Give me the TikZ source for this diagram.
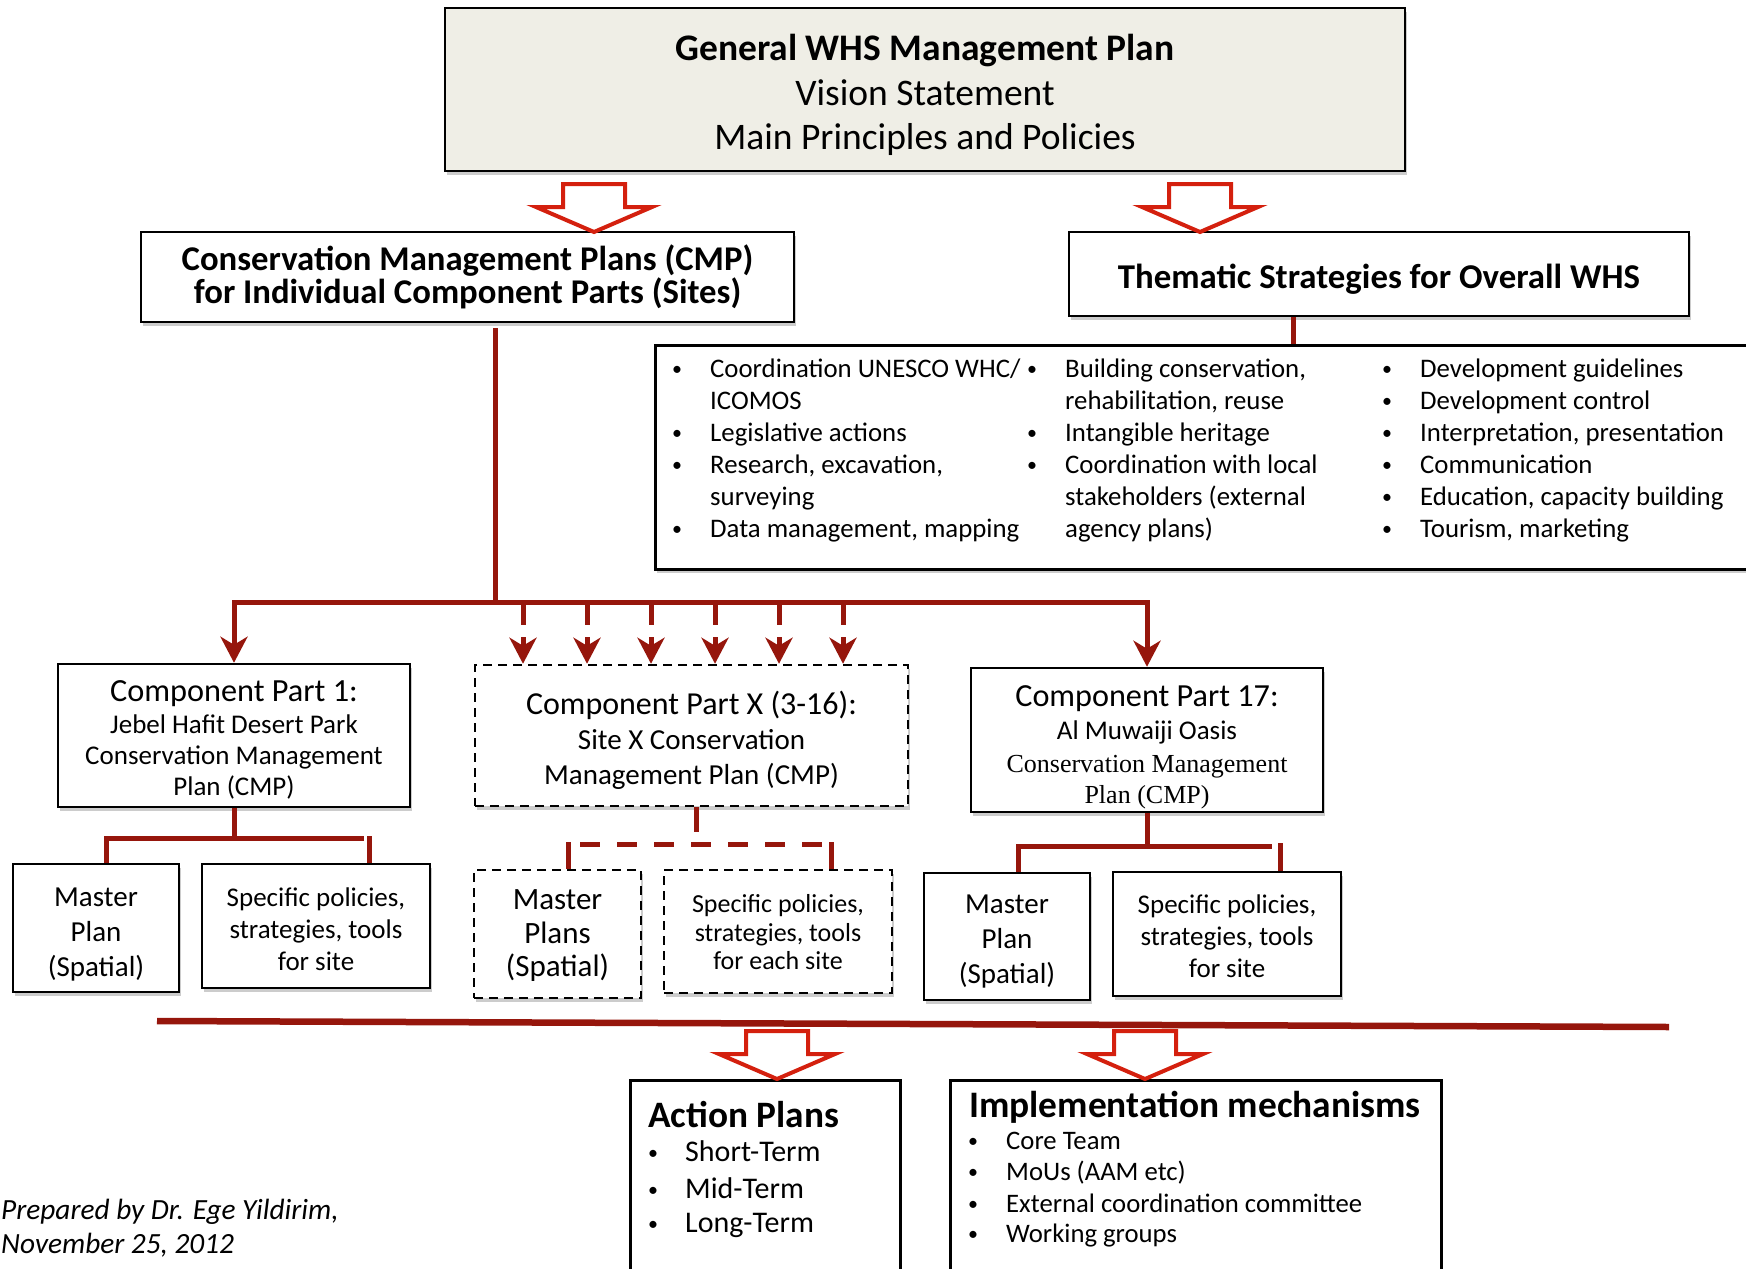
\documentclass[tikz,border=0pt]{standalone}
\usepackage{fontspec}
\setmainfont{Carlito}
\newfontfamily\tnr{Liberation Serif}
\usetikzlibrary{arrows.meta,shadows}
\newcommand\fsz[2]{\fontsize{#1}{#2}\selectfont}
\newcommand\smallbul{\raisebox{1.5pt}{\fontsize{20}{20}\selectfont\textbullet}}
\definecolor{dkred}{RGB}{150,22,12}
\definecolor{brred}{RGB}{212,32,14}
\definecolor{topfill}{RGB}{239,238,230}
\begin{document}
\begin{tikzpicture}[x=1pt,y=-1pt,
  box/.style={draw=black, line width=2.5pt, fill=white, inner sep=0pt,
    drop shadow={shadow xshift=1.5pt, shadow yshift=-4pt, opacity=0.2, fill=black}},
  dbox/.style={box, dash pattern=on 9pt off 6pt},
  txt/.style={inner sep=0pt, align=center},
  rline/.style={draw=dkred, line width=5pt, line join=miter},
  rarr/.style={rline, -{Stealth[length=26pt,width=27pt,inset=8pt]}},
  barrow/.pic={\draw[draw=brred, line width=4pt, fill=white, line join=miter]
      (0,0) -- (-58,-25) -- (-31,-25) -- (-31,-48) -- (31,-48) -- (31,-25) -- (58,-25) -- cycle;},
  bul/.style={anchor=base, inner sep=0pt},
  itm/.style={anchor=base west, inner sep=0pt},
  lst/.style={font=\fsz{26.8}{32}}
]
\useasboundingbox (0,0) rectangle (1746,1269);

% ---------- top level ----------
\node[box, fill=topfill, minimum width=960, minimum height=163] (top) at (925,89.5) {};
\node[txt, font=\fsz{37.5}{44.5}] (topt) at ([yshift=-5.5pt]top.center)
  {\textbf{General WHS Management Plan}\\Vision Statement\\Main Principles and Policies};

\node[box, minimum width=653, minimum height=90] (cmp) at (467.5,277) {};
\node[txt, font=\bfseries\fsz{34.7}{33}] (cmpt) at (cmp.center)
  {Conservation Management Plans (CMP)\\for Individual Component Parts (Sites)};

\node[box, minimum width=620, minimum height=84] (them) at (1379,274) {};
\node[txt, font=\bfseries\fsz{34.8}{34}] (themt) at ([yshift=-5.5pt]them.center)
  {Thematic Strategies for Overall WHS};

\node[box, anchor=north west, minimum width=1112, minimum height=224] (tlist) at (654,344) {};

% ---------- list of strategies ----------
\begin{scope}[lst]
\node[bul] (b11) at (677,377) {\smallbul};
\node[itm] (t11) at (710,377) {Coordination UNESCO WHC/};
\node[itm] (t12) at (710,409) {ICOMOS};
\node[bul] (b13) at (677,441) {\smallbul};
\node[itm] (t13) at (710,441) {Legislative actions};
\node[bul] (b14) at (677,473) {\smallbul};
\node[itm] (t14) at (710,473) {Research, excavation,};
\node[itm] (t15) at (710,505) {surveying};
\node[bul] (b16) at (677,537) {\smallbul};
\node[itm] (t16) at (710,537) {Data management, mapping};

\node[bul] (b21) at (1032,377) {\smallbul};
\node[itm] (t21) at (1065,377) {Building conservation,};
\node[itm] (t22) at (1065,409) {rehabilitation, reuse};
\node[bul] (b23) at (1032,441) {\smallbul};
\node[itm] (t23) at (1065,441) {Intangible heritage};
\node[bul] (b24) at (1032,473) {\smallbul};
\node[itm] (t24) at (1065,473) {Coordination with local};
\node[itm] (t25) at (1065,505) {stakeholders (external};
\node[itm] (t26) at (1065,537) {agency plans)};

\node[bul] (b31) at (1387,377) {\smallbul};
\node[itm] (t31) at (1420,377) {Development guidelines};
\node[bul] (b32) at (1387,409) {\smallbul};
\node[itm] (t32) at (1420,409) {Development control};
\node[bul] (b33) at (1387,441) {\smallbul};
\node[itm] (t33) at (1420,441) {Interpretation, presentation};
\node[bul] (b34) at (1387,473) {\smallbul};
\node[itm] (t34) at (1420,473) {Communication};
\node[bul] (b35) at (1387,505) {\smallbul};
\node[itm] (t35) at (1420,505) {Education, capacity building};
\node[bul] (b36) at (1387,537) {\smallbul};
\node[itm] (t36) at (1420,537) {Tourism, marketing};
\end{scope}

% ---------- component parts ----------
\node[box, minimum width=352, minimum height=143] (comp1) at (234,735.5) {};
\node[txt, font=\fsz{27}{31}] (comp1t) at ([yshift=-4.5pt]comp1.center)
  {{\fsz{32.3}{31}Component Part 1:}\\[1pt]Jebel Hafit Desert Park\\Conservation Management\\Plan (CMP)};

\node[dbox, minimum width=433, minimum height=141] (compX) at (691.5,735.5) {};
\node[txt, font=\fsz{29}{35}] (compXt) at ([yshift=-4.5pt]compX.center)
  {{\fsz{32}{35}Component Part X (3-16):}\\Site X Conservation\\Management Plan (CMP)};

\node[box, minimum width=352, minimum height=144] (comp17) at (1147,740) {};
\node[txt, font=\fsz{27}{33}] (comp17t) at ([yshift=-7pt]comp17.center)
  {{\fsz{32.2}{33}Component Part 17:}\\Al Muwaiji Oasis\\{\tnr\fsz{26}{33}Conservation Management}\\[-2pt]{\tnr\fsz{26}{33}Plan (CMP)}};

% ---------- sub boxes ----------
\node[box, minimum width=166, minimum height=128] (mp1) at (96,928) {};
\node[txt, font=\fsz{29}{35}] (mp1t) at ([yshift=-6.5pt]mp1.center) {Master\\Plan\\(Spatial)};
\node[box, minimum width=228, minimum height=124] (sp1) at (316,926) {};
\node[txt, font=\fsz{27}{32}] (sp1t) at ([yshift=-3pt]sp1.center) {Specific policies,\\strategies, tools\\for site};
\node[dbox, minimum width=167, minimum height=128] (mpX) at (557.5,934) {};
\node[txt, font=\fsz{31}{33.5}] (mpXt) at ([yshift=-2pt]mpX.center) {Master\\Plans\\(Spatial)};
\node[dbox, minimum width=228, minimum height=123] (spX) at (778,931.5) {};
\node[txt, font=\fsz{26}{28.5}] (spXt) at ([yshift=-1pt]spX.center) {Specific policies,\\strategies, tools\\for each site};
\node[box, minimum width=166, minimum height=127] (mp17) at (1007,936.5) {};
\node[txt, font=\fsz{29}{35}] (mp17t) at ([yshift=-5.5pt]mp17.center) {Master\\Plan\\(Spatial)};
\node[box, minimum width=228, minimum height=124] (sp17) at (1227,934) {};
\node[txt, font=\fsz{27}{32}] (sp17t) at ([yshift=-2pt]sp17.center) {Specific policies,\\strategies, tools\\for site};

% ---------- bottom boxes ----------
\node[box, anchor=north west, minimum width=270, minimum height=230] (act) at (629,1079) {};
\node[anchor=base west, inner sep=0pt, font=\bfseries\fsz{37.3}{37}] (actt) at (648,1127) {Action Plans};
\begin{scope}[font=\fsz{30}{34}]
\node[bul] (ab1) at (653,1161) {\smallbul};
\node[itm] (at1) at (685,1161) {Short-Term};
\node[bul] (ab2) at (653,1198) {\smallbul};
\node[itm] (at2) at (685,1198) {Mid-Term};
\node[bul] (ab3) at (653,1232) {\smallbul};
\node[itm] (at3) at (685,1232) {Long-Term};
\end{scope}

\node[box, anchor=north west, minimum width=491, minimum height=230] (impl) at (949,1079) {};
\node[anchor=base west, inner sep=0pt, font=\bfseries\fsz{37.4}{37}] (implt) at (969,1117) {Implementation mechanisms};
\begin{scope}[font=\fsz{26.7}{31}]
\node[bul] (ib1) at (973,1149) {\smallbul};
\node[itm] (it1) at (1006,1149) {Core Team};
\node[bul] (ib2) at (973,1180) {\smallbul};
\node[itm] (it2) at (1006,1180) {MoUs (AAM etc)};
\node[bul] (ib3) at (973,1212) {\smallbul};
\node[itm] (it3) at (1006,1212) {External coordination committee};
\node[bul] (ib4) at (973,1242) {\smallbul};
\node[itm] (it4) at (1006,1242) {Working groups};
\end{scope}

\node[anchor=base west, inner sep=0pt, font=\itshape\fsz{29.3}{31}] (prep1) at (1,1219) {Prepared by Dr. Ege Yildirim,};
\node[anchor=base west, inner sep=0pt, font=\itshape\fsz{29.3}{31}] (prep2) at (1,1253) {November 25, 2012};

% ---------- connectors ----------
\coordinate (tv) at (1293,0);
\draw[rline] (them.south -| tv) -- (tlist.north -| tv);

\coordinate (trunkTop) at (495,328);
\coordinate (busC) at (495,602);
\draw[rline] (trunkTop) -- (busC);
\draw[rarr] (busC) -| (comp1.north);
\draw[rarr] (busC) -| (comp17.north);
\foreach \x [count=\i] in {523,587,651,715,779,843} {
  \coordinate (st\i) at (\x,602);
  \coordinate (sh\i) at (\x,637);
  \draw[rline] (st\i) -- ++(0,23);
  \draw[rarr] (sh\i) -- (sh\i |- compX.north);
}

% component 1 subtree
\coordinate (c1L) at (106,838);
\coordinate (c1R) at (364,838);
\coordinate (c1Rt) at (369,836);
\draw[rline] (comp1.south) -- (comp1.south |- c1L);
\draw[rline] (mp1.north -| c1L) |- (c1R);
\draw[rline] (c1Rt) -- (c1Rt |- sp1.north);

% component X subtree
\coordinate (cXv) at (696,832);
\coordinate (cXL) at (568,842);
\coordinate (cXR) at (831,842);
\coordinate (cXd1) at (580,844);
\coordinate (cXd2) at (826,844);
\draw[rline] (compX.south -| cXv) -- (cXv);
\draw[rline, dash pattern=on 20pt off 17pt] (cXd1) -- (cXd2);
\draw[rline] (cXL) -- (cXL |- mpX.north);
\draw[rline] (cXR) -- (cXR |- spX.north);

% component 17 subtree
\coordinate (c17L) at (1018,846);
\coordinate (c17R) at (1272,846);
\coordinate (c17Rt) at (1280,843);
\draw[rline] (comp17.south) -- (comp17.south |- c17L);
\draw[rline] (mp17.north -| c17L) |- (c17R);
\draw[rline] (c17Rt) -- (c17Rt |- sp17.north);

% bottom line
\coordinate (bl1) at (157,1021);
\coordinate (bl2) at (1669,1027);
\draw[rline, line width=6.5pt] (bl1) -- (bl2);

% block arrows
\pic at (594,232) {barrow};
\pic at (1200,232) {barrow};
\pic at (777,1079) {barrow};
\pic at (1145,1079) {barrow};
\end{tikzpicture}
\end{document}
